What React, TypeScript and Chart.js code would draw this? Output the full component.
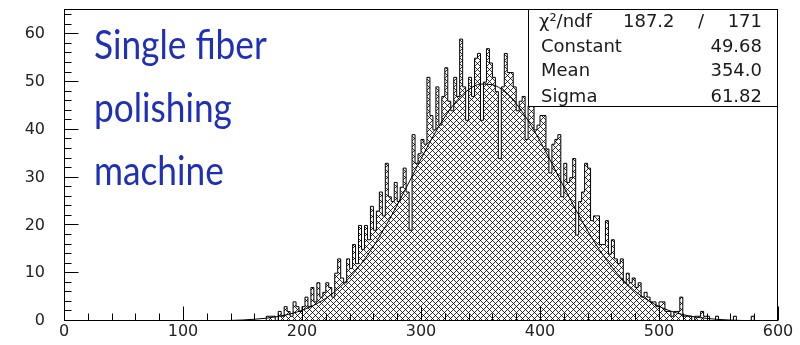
import React, { useEffect, useRef } from "react";
import { Chart, registerables } from "chart.js";

Chart.register(...registerables);

// ---- data ----
const X_MIN = 0;
const X_MAX = 600;
const Y_MAX = 65.3;
const X_TICKS = [0, 100, 200, 300, 400, 500, 600];
const Y_TICKS = [0, 10, 20, 30, 40, 50, 60];

const BIN_WIDTH = 2.5;
const FIRST_BIN_EDGE = 165;
const BIN_COUNTS = [
  0, 0, 1, 1, 1, 0, 2, 1, 3, 2,
  1, 4, 3, 2, 3, 5, 3, 7, 4, 8,
  5, 6, 8, 7, 5, 10, 13, 9, 8, 13,
  11, 16, 12, 20, 15, 20, 17, 24, 19, 23,
  27, 22, 33, 26, 25, 29, 25, 28, 32, 27,
  19, 39, 33, 35, 38, 37, 51, 43, 40, 49,
  41, 47, 53, 46, 44, 51, 47, 59, 49, 42,
  51, 47, 55, 56, 42, 50, 57, 54, 51, 48,
  34, 49, 56, 52, 52, 49, 44, 46, 47, 38,
  45, 45, 40, 41, 43, 43, 36, 31, 37, 38,
  39, 26, 33, 29, 30, 34, 18, 25, 27, 33,
  32, 21, 22, 22, 16, 16, 21, 14, 17, 13,
  12, 13, 8, 10, 8, 9, 7, 8, 5, 6,
  5, 4, 4, 3, 4, 4, 2, 2, 1, 2,
  2, 5, 1, 1, 1, 0, 1, 1, 2, 1,
  1, 0, 0, 1, 0, 0, 0, 0, 0, 1,
  0, 0, 0, 0, 0, 1, 0, 0, 0, 0,
];

const FIT_X = [
  117.5, 120, 130, 140, 150, 160, 170, 180, 190, 200, 210, 220, 230, 240, 250, 260,
  270, 280, 290, 300, 310, 320, 330, 340, 350, 360, 370, 380, 390, 400,
  410, 420, 430, 440, 450, 460, 470, 480, 490, 500, 510, 520, 530, 540,
  550, 560, 570, 580, 590,
];
const FIT_Y = [
  0.03, 0.04, 0.07, 0.12, 0.21, 0.36, 0.59, 0.95, 1.47, 2.23, 3.3, 4.74, 6.64, 9.08, 12.07, 15.63,
  19.74, 24.27, 29.07, 33.92, 38.56, 42.71, 46.07, 48.42, 49.58, 49.45, 48.05, 45.48, 41.93, 37.67,
  32.96, 28.1, 23.33, 18.88, 14.88, 11.42, 8.54, 6.22, 4.42, 3.05, 2.06, 1.35, 0.86, 0.54,
  0.33, 0.19, 0.11, 0.06, 0.03,
];

const STAT_LABELS = ["Constant", "Mean", "Sigma"];
const STAT_VALUES = ["49.68", "354.0", "61.82"];
const CHI2_TEXT = ["χ²/ndf", "187.2", "/", "171"];
const TITLE_LINES = ["Single fiber", "polishing", "machine"];

function makePattern(): CanvasPattern | string {
  const pc = document.createElement("canvas");
  pc.width = 6;
  pc.height = 6;
  const g = pc.getContext("2d");
  if (!g) return "#999";
  g.fillStyle = "#ffffff";
  g.fillRect(0, 0, 6, 6);
  for (let k = 0; k < 6; k++) {
    const a = k;
    const b = (6 - k) % 6;
    const isX = a === b;
    g.fillStyle = isX ? "#000000" : "#333333";
    g.fillRect(a, k, 1, 1);
    if (!isX) g.fillRect(b, k, 1, 1);
  }
  const pat = g.createPattern(pc, "repeat");
  return pat || "#999";
}

const zeroPad = (s: any) => {
  s.paddingTop = 0;
  s.paddingBottom = 0;
  s.paddingLeft = 0;
  s.paddingRight = 0;
};

const framePlugin = {
  id: "rootFrame",
  afterDraw(chart: any) {
    const { ctx, chartArea } = chart;
    const xs = chart.scales.x;
    const ys = chart.scales.y;
    const L = Math.round(chartArea.left) + 0.5;
    const R = Math.round(chartArea.right) - 0.5;
    const T = Math.round(chartArea.top) + 0.5;
    const B = Math.round(chartArea.bottom) - 0.5;
    ctx.save();
    ctx.strokeStyle = "#000";
    ctx.lineWidth = 1;
    ctx.strokeRect(L, T, R - L, B - T);
    ctx.beginPath();
    for (let v = 0; v <= X_MAX; v += 20) {
      const px = Math.round(xs.getPixelForValue(v)) + 0.5;
      const len = v % 100 === 0 ? 14 : 7;
      ctx.moveTo(px, B);
      ctx.lineTo(px, B - len);
    }
    for (let v = 0; v <= Y_MAX; v += 2) {
      const py = Math.round(ys.getPixelForValue(v)) - 0.5;
      const len = v % 10 === 0 ? 14 : 7;
      ctx.moveTo(L, py);
      ctx.lineTo(L + len, py);
    }
    ctx.stroke();

    // stats box
    const bx = 528;
    const by = Math.round(chartArea.top);
    const bw = Math.round(chartArea.right) - bx;
    const bh = 98;
    ctx.fillStyle = "#fff";
    ctx.fillRect(bx, by, bw, bh);
    ctx.strokeRect(bx + 0.5, by + 0.5, bw - 1, bh - 1);
    ctx.fillStyle = "#1a1a1a";
    ctx.font = '18px "DejaVu Sans"';
    ctx.textBaseline = "middle";
    const rows = [by + 13, by + 38, by + 62, by + 88];
    ctx.textAlign = "left";
    ctx.fillText(CHI2_TEXT[0], 539, rows[0]);
    ctx.fillText(CHI2_TEXT[1], 623, rows[0]);
    ctx.fillText(CHI2_TEXT[2], 698, rows[0]);
    ctx.textAlign = "right";
    ctx.fillText(CHI2_TEXT[3], 762, rows[0]);
    for (let i = 0; i < STAT_LABELS.length; i++) {
      ctx.textAlign = "left";
      ctx.fillText(STAT_LABELS[i], 541, rows[i + 1]);
      ctx.textAlign = "right";
      ctx.fillText(STAT_VALUES[i], 762, rows[i + 1]);
    }
    ctx.restore();
  },
};

export default function App() {
  const ref = useRef<HTMLCanvasElement | null>(null);
  useEffect(() => {
    if (!ref.current) return;
    const pattern = makePattern();
    const histData = BIN_COUNTS.map((c, i) => ({ x: FIRST_BIN_EDGE + i * BIN_WIDTH, y: c }));
    histData.push({ x: FIRST_BIN_EDGE + BIN_COUNTS.length * BIN_WIDTH, y: 0 });
    const fitData = FIT_X.map((x, i) => ({ x, y: FIT_Y[i] }));
    const font = { family: '"DejaVu Sans"', size: 16 };
    const chart = new Chart(ref.current, {
      type: "line",
      data: {
        datasets: [
          {
            label: "fit",
            data: fitData,
            borderColor: "#000",
            borderWidth: 1,
            pointRadius: 0,
            fill: false,
            cubicInterpolationMode: "monotone",
          },
          {
            label: "hist",
            data: histData,
            borderColor: "#000",
            borderWidth: 1,
            pointRadius: 0,
            stepped: "before",
            fill: "origin",
            backgroundColor: pattern as any,
          },
        ],
      },
      options: {
        animation: false,
        responsive: false,
        maintainAspectRatio: false,
        layout: { padding: { top: 9, right: 22, left: 0, bottom: 0 } },
        plugins: {
          legend: { display: false },
          tooltip: { enabled: false },
          filler: { drawTime: "beforeDatasetsDraw" },
        } as any,
        scales: {
          x: {
            type: "linear",
            min: X_MIN,
            max: X_MAX,
            afterBuildTicks: (s: any) => {
              s.ticks = X_TICKS.map((v) => ({ value: v }));
            },
            afterFit: (s: any) => {
              s.height = 24;
              zeroPad(s);
            },
            grid: { display: false, drawTicks: false },
            border: { display: false },
            ticks: { padding: 1, font, color: "#222", maxRotation: 0, autoSkip: false },
          },
          y: {
            type: "linear",
            min: 0,
            max: Y_MAX,
            afterBuildTicks: (s: any) => {
              s.ticks = Y_TICKS.map((v) => ({ value: v }));
            },
            afterFit: (s: any) => {
              s.width = 64;
              zeroPad(s);
            },
            grid: { display: false, drawTicks: false },
            border: { display: false },
            ticks: { padding: 19, font, color: "#222", autoSkip: false },
          },
        },
      },
      plugins: [framePlugin],
    });
    return () => chart.destroy();
  }, []);

  return (
    <div style={{ position: "relative", width: 800, height: 345, background: "#fff" }}>
      <style>{`body{margin:0;background:#fff}`}</style>
      <canvas ref={ref} width={800} height={345} style={{ display: "block" }} />
      <div
        style={{
          position: "absolute",
          left: 94,
          top: 12,
          fontFamily: "Lato",
          fontWeight: 400,
          fontSize: 41,
          lineHeight: "63px",
          color: "#1f30b8",
          whiteSpace: "nowrap",
          transform: "scaleX(0.86)",
          transformOrigin: "left top",
        }}
      >
        {TITLE_LINES.map((t) => (
          <div key={t}>{t}</div>
        ))}
      </div>
    </div>
  );
}
